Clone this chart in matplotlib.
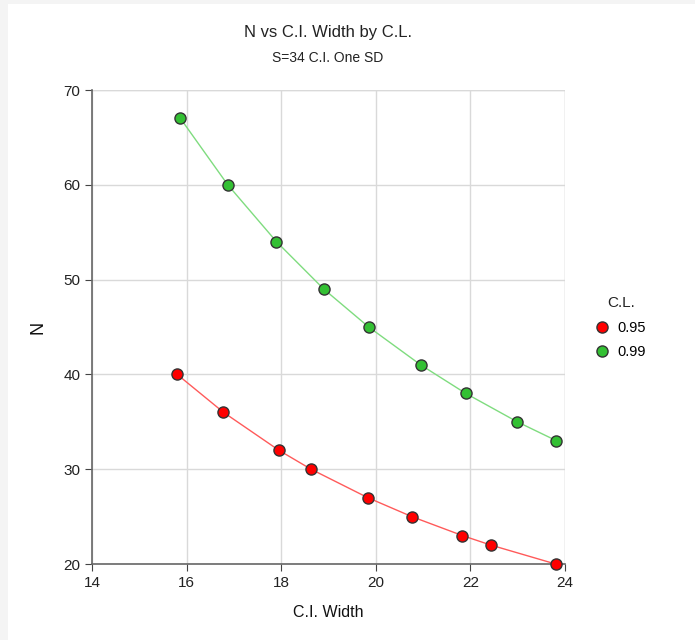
import matplotlib.pyplot as plt
from matplotlib.patches import Rectangle

plt.rcParams['font.family'] = ['Liberation Sans', 'DejaVu Sans']

# C.L. = 0.95
width_95 = [15.80, 16.78, 17.95, 18.63, 19.83, 20.76, 21.83, 22.43, 23.80]
n_95 = [40, 36, 32, 30, 27, 25, 23, 22, 20]
# C.L. = 0.99
width_99 = [15.87, 16.87, 17.90, 18.90, 19.85, 20.95, 21.90, 22.99, 23.82]
n_99 = [67, 60, 54, 49, 45, 41, 38, 35, 33]

xticks = [14, 16, 18, 20, 22, 24]
yticks = [20, 30, 40, 50, 60, 70]

fig = plt.figure(figsize=(6.95, 6.4), dpi=100, facecolor='#f4f4f4')
fig.patches.append(Rectangle((8 / 695, 0), 1, 1 - 4 / 640, transform=fig.transFigure,
                             facecolor='white', edgecolor='none', zorder=-5))
ax = fig.add_axes([92 / 695, 1 - 564 / 640, 473 / 695, 474 / 640])
ax.set_facecolor('white')

ax.plot(width_95, n_95, color='#ff5a5a', lw=1, zorder=2)
ax.plot(width_99, n_99, color='#7fdc7f', lw=1, zorder=2)
ax.plot(width_95, n_95, 'o', ms=8, mfc='#ff0000', mec='#333333', mew=1,
        ls='none', label='0.95', zorder=3, clip_on=False)
ax.plot(width_99, n_99, 'o', ms=8, mfc='#33c033', mec='#333333', mew=1,
        ls='none', label='0.99', zorder=3, clip_on=False)

ax.set_xlim(14, 24)
ax.set_ylim(20, 70)
ax.set_xticks(xticks)
ax.set_yticks(yticks)
ax.grid(True, color='#d9d9d9', lw=1)
ax.set_axisbelow(True)
for s in ['top', 'right']:
    ax.spines[s].set_visible(False)
for s in ['left', 'bottom']:
    ax.spines[s].set_color('#666666')
    ax.spines[s].set_linewidth(1.2)
ax.tick_params(direction='out', length=5, color='#444444', labelsize=11,
               labelcolor='#222222')
# right and top grid edges
ax.axvline(24, color='#d9d9d9', lw=1, zorder=0)
ax.axhline(70, color='#d9d9d9', lw=1, zorder=0)

ax.set_xlabel('C.I. Width', fontsize=11.5, labelpad=11, color='#111111')
ax.set_ylabel('N', fontsize=13, labelpad=12, color='#111111', rotation=90)

fig.text(328 / 695, 1 - 32 / 640, 'N vs C.I. Width by C.L.', ha='center', va='center',
         fontsize=12, color='#222222')
fig.text(328 / 695, 1 - 58 / 640, 'S=34 C.I. One SD', ha='center', va='center',
         fontsize=10, color='#222222')

# legend
fig.text(607 / 695, 1 - 303 / 640, 'C.L.', ha='left', va='center',
         fontsize=11, color='#222222')
handles, labels = ax.get_legend_handles_labels()
fig.legend(handles, labels, loc='upper left',
           bbox_to_anchor=(595 / 695, 1 - 321 / 640), frameon=False,
           fontsize=10.5, handlelength=1.0, handletextpad=0.55,
           labelspacing=0.7, borderpad=0, borderaxespad=0)

fig.savefig('out.png', dpi=100, facecolor=fig.get_facecolor())
